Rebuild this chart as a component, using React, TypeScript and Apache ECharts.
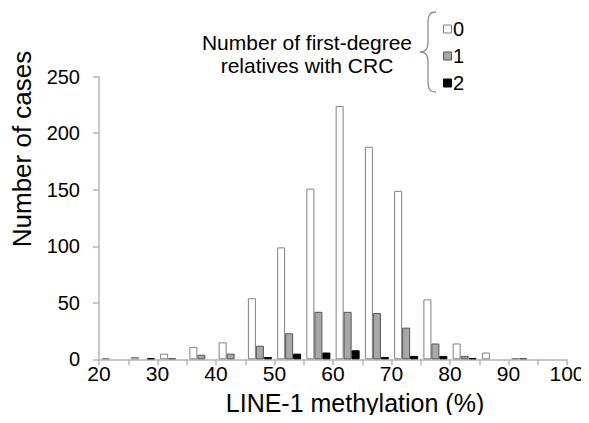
import React, { useEffect, useRef } from "react";
import * as echarts from "echarts";

const binCenters = ["22.5", "27.5", "32.5", "37.5", "42.5", "47.5", "52.5", "57.5", "62.5", "67.5", "72.5", "77.5", "82.5", "87.5", "92.5", "97.5"];
const rel0 = [1, 2, 5, 11, 15, 54, 99, 151, 224, 188, 149, 53, 14, 6, 1, 0];
const rel1 = [0, 0, 1, 4, 5, 12, 23, 42, 42, 41, 28, 14, 3, 0, 1, 0];
const rel2 = [0, 1, 0, 0, 0, 2, 5, 6, 8, 2, 3, 3, 1, 0, 0, 0];
const legendLabels = ["0", "1", "2"];
const legendTitle = "Number of first-degree\nrelatives with CRC";
const yName = "Number of cases";
const xName = "LINE-1 methylation (%)";

const FONT = "'Liberation Sans', Arial, sans-serif";

let braceRegistered = false;

export default function App() {
  const ref = useRef<HTMLDivElement>(null);
  useEffect(() => {
    if (!ref.current) return;
    if (!braceRegistered) {
      const Brace = echarts.graphic.extendPath(
        "M 436 12 C 429 12 428 16 428 24 L 428 43 C 428 49 426 52 420 52 C 426 52 428 55 428 61 L 428 80 C 428 88 429 92 436 92",
        {}
      );
      echarts.graphic.registerShape("brace", Brace);
      braceRegistered = true;
    }
    const chart = echarts.init(ref.current, undefined, { renderer: "svg" });
    const axisGray = "#b4b4b4";
    const legendColors = [
      { fill: "#ffffff", stroke: "#808080" },
      { fill: "#a8a8a8", stroke: "#555555" },
      { fill: "#000000", stroke: "#000000" },
    ];
    const legendY = [29, 56, 83];
    chart.setOption({
      animation: false,
      backgroundColor: "#ffffff",
      textStyle: { fontFamily: FONT },
      grid: { left: 99, right: 22, top: 76.7, bottom: 63.7, containLabel: false },
      xAxis: [
        {
          type: "value",
          position: "bottom",
          min: 20,
          max: 100,
          interval: 5,
          splitLine: { show: false },
          axisLine: { lineStyle: { color: axisGray, width: 1.5 } },
          axisTick: { length: 6, lineStyle: { color: axisGray, width: 1.5 } },
          axisLabel: {
            color: "#000",
            fontSize: 21,
            fontFamily: FONT,
            margin: 4,
            formatter: (v: number) => (v % 10 === 0 ? String(v) : ""),
          },
        },
        {
          type: "category",
          data: binCenters,
          show: false,
          boundaryGap: true,
        },
      ],
      yAxis: {
        type: "value",
        min: 0,
        max: 250,
        interval: 50,
        splitLine: { show: false },
        axisLine: { show: true, lineStyle: { color: axisGray, width: 1.5 } },
        axisTick: { show: true, length: 6, lineStyle: { color: axisGray, width: 1.5 } },
        axisLabel: { color: "#000", fontSize: 20, fontFamily: FONT, margin: 19 },
      },
      series: [rel0, rel1, rel2].map((d, i) => ({
        type: "bar",
        xAxisIndex: 1,
        data: d.map((v) => (v === 0 ? "-" : v)),
        barWidth: 8,
        barGap: "0%",
        itemStyle: {
          color: legendColors[i].fill,
          borderColor: legendColors[i].stroke,
          borderWidth: 1,
        },
      })),
      graphic: [
        {
          type: "text",
          x: 307,
          y: 54,
          style: {
            text: legendTitle,
            align: "center",
            verticalAlign: "middle",
            fontSize: 21,
            lineHeight: 23,
            fontFamily: FONT,
            fill: "#000",
          },
        },
        {
          type: "brace",
          x: 0,
          y: 0,
          style: { fill: "none", stroke: "#909090", lineWidth: 1.3 },
        },
        ...legendLabels.flatMap((lab, i) => [
          {
            type: "rect",
            shape: { x: 443.5, y: legendY[i] - 4, width: 8, height: 8 },
            style: { fill: legendColors[i].fill, stroke: legendColors[i].stroke, lineWidth: 1 },
          },
          {
            type: "text",
            x: 453,
            y: legendY[i],
            style: {
              text: lab,
              align: "left",
              verticalAlign: "middle",
              fontSize: 20,
              fontFamily: FONT,
              fill: "#000",
            },
          },
        ]),
        {
          type: "text",
          x: 22,
          y: 149,
          rotation: Math.PI / 2,
          style: {
            text: yName,
            align: "center",
            verticalAlign: "middle",
            fontSize: 26,
            fontFamily: FONT,
            fill: "#000",
          },
        },
        {
          type: "text",
          x: 355,
          y: 403,
          style: {
            text: xName,
            align: "center",
            verticalAlign: "middle",
            fontSize: 25,
            fontFamily: FONT,
            fill: "#000",
          },
        },
      ],
    });
    return () => chart.dispose();
  }, []);
  return <div ref={ref} style={{ width: 589, height: 423, margin: -8 }} />;
}
